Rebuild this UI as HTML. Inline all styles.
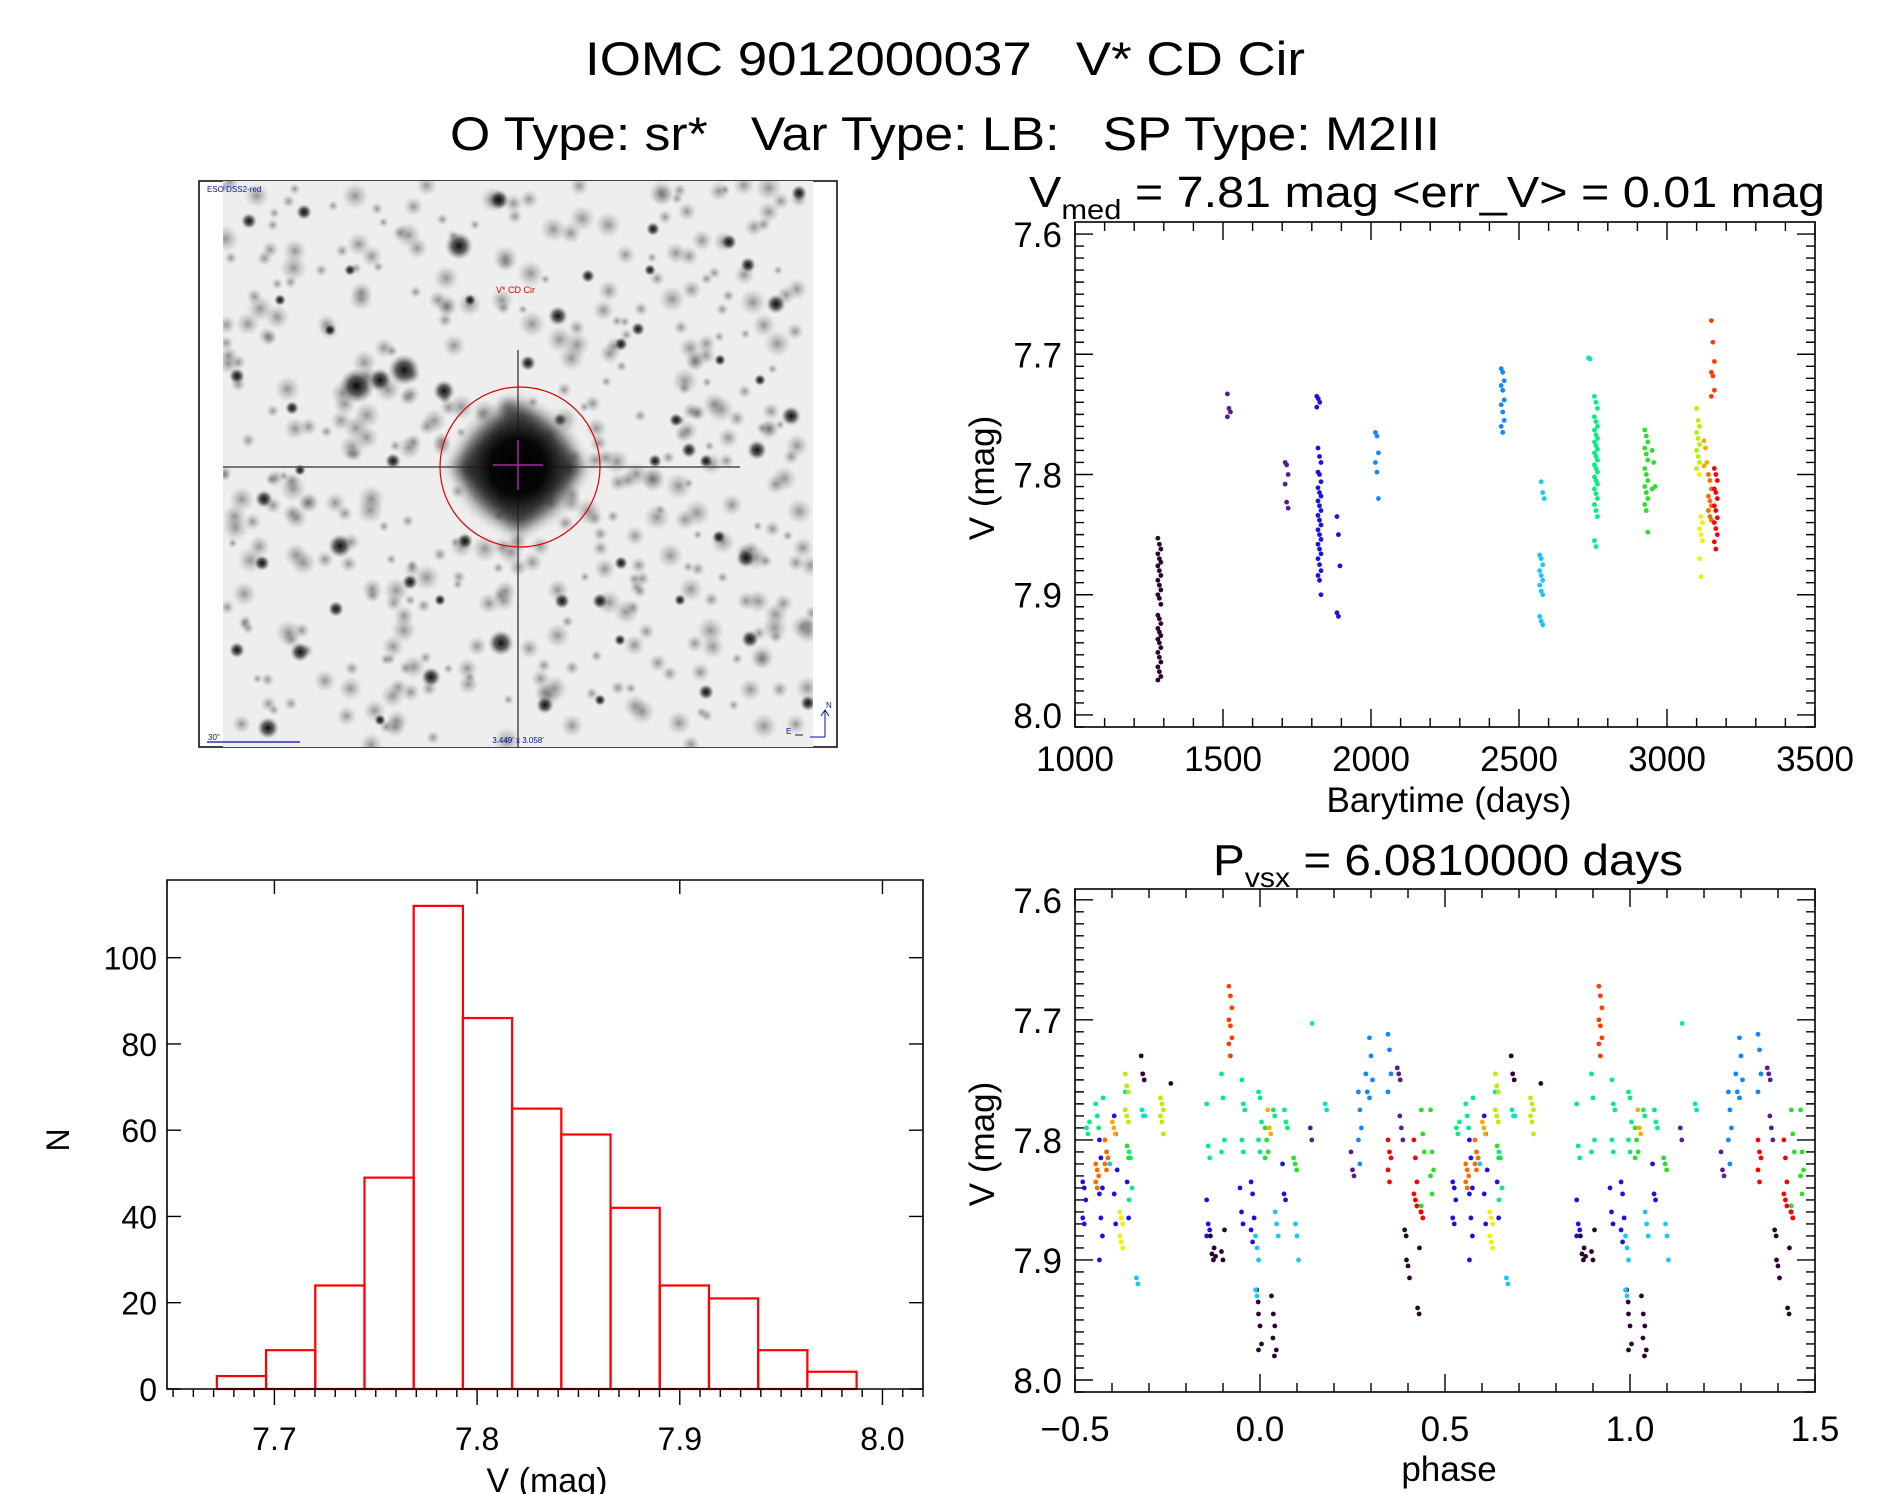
<!DOCTYPE html>
<html><head><meta charset="utf-8">
<style>
html,body{margin:0;padding:0;background:#fff;}
svg{display:block;font-family:"Liberation Sans",sans-serif;}
.thin{stroke:#fff;stroke-width:1.1px;paint-order:stroke fill;}
</style></head>
<body>
<svg id="fig" width="1889" height="1494" viewBox="0 0 1889 1494" xmlns="http://www.w3.org/2000/svg">
<text x="945" y="75" font-size="47" text-anchor="middle" textLength="720" lengthAdjust="spacingAndGlyphs" xml:space="preserve">IOMC 9012000037   V* CD Cir</text>
<text x="945" y="150" font-size="47" text-anchor="middle" textLength="990" lengthAdjust="spacingAndGlyphs" xml:space="preserve">O Type: sr*   Var Type: LB:   SP Type: M2III</text>
<text x="1029" y="207" font-size="44" textLength="796" lengthAdjust="spacingAndGlyphs" xml:space="preserve">V<tspan font-size="28" dy="12">med</tspan><tspan dy="-12"> = 7.81 mag &lt;err_V&gt; = 0.01 mag</tspan></text>
<text x="1213" y="875" font-size="44" textLength="470" lengthAdjust="spacingAndGlyphs" xml:space="preserve">P<tspan font-size="28" dy="12">vsx</tspan><tspan dy="-12"> = 6.0810000 days</tspan></text>

<g id="sky">
  <defs>
    <radialGradient id="blob"><stop offset="0" stop-color="#000" stop-opacity="0.95"/><stop offset="0.5" stop-color="#222" stop-opacity="0.7"/><stop offset="1" stop-color="#888" stop-opacity="0"/></radialGradient>
    <radialGradient id="faint"><stop offset="0" stop-color="#555" stop-opacity="0.6"/><stop offset="1" stop-color="#999" stop-opacity="0"/></radialGradient>
    <radialGradient id="bright"><stop offset="0" stop-color="#000"/><stop offset="0.4" stop-color="#111"/><stop offset="0.75" stop-color="#666" stop-opacity="0.6"/><stop offset="1" stop-color="#ccc" stop-opacity="0"/></radialGradient>
    <filter id="blur6"><feGaussianBlur stdDeviation="7"/></filter>
    <clipPath id="skyclip"><rect x="223" y="181" width="590" height="566"/></clipPath>
  </defs>
  <rect x="199" y="181" width="638" height="566" fill="#fff" stroke="#000" stroke-width="1.5"/>
  <g clip-path="url(#skyclip)">
  <rect x="223" y="181" width="590" height="566" fill="#eeeeee"/>
  <g id="faintstars"></g>
  <g id="stars"></g>
  <line x1="223" y1="467" x2="740" y2="467" stroke="#444" stroke-width="2" opacity="0.7"/>
  <line x1="518" y1="350" x2="518" y2="747" stroke="#444" stroke-width="2" opacity="0.7"/>
  <ellipse cx="518" cy="467" rx="70" ry="70" fill="url(#bright)"/>
  <polygon points="518,400 585,467 518,534 451,467" fill="#000" opacity="0.6" filter="url(#blur6)"/>
  </g>
  <circle cx="520" cy="467" r="80" fill="none" stroke="#d00" stroke-width="1.2"/>
  <line x1="518" y1="440" x2="518" y2="490" stroke="#b020b0" stroke-width="1.5"/>
  <line x1="493" y1="465" x2="543" y2="465" stroke="#b020b0" stroke-width="1.5"/>
  <text x="496" y="293" font-size="9" fill="#d00">V* CD Cir</text>
  <text x="207" y="192" font-size="8" fill="#0010a0">ESO DSS2-red</text>
  <text x="208" y="740" font-size="8" fill="#0010a0">30"</text>
  <line x1="207" y1="742" x2="300" y2="742" stroke="#0010a0" stroke-width="1.2"/>
  <text x="518" y="743" font-size="8" fill="#0010a0" text-anchor="middle">3.449' x 3.058'</text>
  <path d="M825,737 L825,710 M821,716 L825,710 L829,716 M825,737 L810,737 M795,735 L803,735" stroke="#0010a0" fill="none" stroke-width="1"/>
  <text x="826" y="708" font-size="8" fill="#0010a0">N</text>
  <text x="786" y="734" font-size="8" fill="#0010a0">E</text>
</g>

<g id="lc"></g>
<g id="ph"></g>
<g id="hist"></g>
</svg>
<script>
// ---------- Light curve data ----------
const lcTimes = [1285, 1520, 1715, 1822, 1826, 1890, 2020, 2445, 2575, 2580, 2740, 2760, 2930, 2955, 3105, 3115, 3130, 3145, 3155, 3165];
const lcColors = [0, 1, 1, 2, 2, 2, 3, 3, 4, 4, 5, 6, 7, 7, 8, 9, 10, 11, 12, 13];
const lcMags = [
 [7.853,7.858,7.862,7.866,7.870,7.873,7.876,7.880,7.884,7.888,7.892,7.896,7.900,7.903,7.908,7.917,7.920,7.924,7.928,7.931,7.934,7.937,7.940,7.944,7.948,7.952,7.956,7.960,7.964,7.968,7.971],
 [7.733,7.745,7.748,7.752],
 [7.790,7.792,7.800,7.808,7.823,7.828],
 [7.735,7.737,7.740,7.744],
 [7.778,7.785,7.790,7.798,7.800,7.806,7.811,7.815,7.818,7.822,7.826,7.830,7.834,7.838,7.842,7.846,7.850,7.854,7.858,7.862,7.866,7.870,7.875,7.880,7.884,7.888,7.900],
 [7.835,7.850,7.876,7.915,7.918],
 [7.765,7.768,7.782,7.790,7.798,7.820],
 [7.712,7.715,7.722,7.726,7.730,7.738,7.742,7.748,7.755,7.760,7.765],
 [7.867,7.870,7.875,7.880,7.884,7.888,7.892,7.897,7.900,7.918,7.922,7.925],
 [7.806,7.815,7.820],
 [7.703,7.704],
 [7.735,7.740,7.745,7.752,7.756,7.760,7.763,7.767,7.770,7.773,7.776,7.779,7.782,7.785,7.788,7.792,7.795,7.798,7.802,7.805,7.808,7.812,7.816,7.820,7.825,7.830,7.835,7.855,7.860],
 [7.763,7.768,7.773,7.778,7.783,7.788,7.795,7.800,7.805,7.810,7.815,7.820,7.825,7.830,7.848],
 [7.780,7.790,7.810,7.812],
 [7.745,7.755,7.760,7.765,7.770,7.775,7.780,7.785,7.790,7.795],
 [7.800,7.835,7.840,7.845,7.850,7.855,7.870,7.885],
 [7.772,7.778,7.790,7.793],
 [7.800,7.805,7.812,7.818,7.822,7.826,7.830,7.835,7.838],
 [7.672,7.690,7.706,7.715,7.718,7.730,7.735],
 [7.795,7.800,7.805,7.812,7.815,7.820,7.826,7.830,7.836,7.840,7.845,7.850,7.856,7.862]
];
const lcXTicks = [1000,1500,2000,2500,3000,3500];
const magTicks = [7.6,7.7,7.8,7.9,8.0];

// ---------- Phase data (phase in [-0.5,0.5), drawn twice) ----------
const phPhase = [-0.13,-0.12,-0.10,-0.005,0.0,0.035,0.04,0.395,0.40,0.43,0.435,-0.317,-0.237,
 0.14,0.25,0.375,0.382,
 -0.475,-0.43,-0.39,-0.355,-0.14,-0.05,-0.02,0.065,
 0.27,0.29,0.30,0.35,
 -0.41,-0.33,-0.008,0.045,0.10,
 0.145,0.18,-0.315,
 -0.465,-0.44,-0.42,-0.36,-0.35,-0.14,-0.10,-0.045,0.0,0.04,0.07,
 -0.355,0.018,0.095,0.44,0.465,
 -0.36,-0.265,
 -0.375,
 -0.395,0.025,
 -0.44,-0.415,
 -0.08,
 0.35,0.42,0.44];
const phColors = [0,0,0,0,0,0,0,0,0,0,0,0,0,
 1,1,1,1,
 2,2,2,2,2,2,2,2,
 3,3,3,3,
 4,4,4,4,4,
 5,5,5,
 6,6,6,6,6,6,6,6,6,6,6,
 7,7,7,7,7,
 8,8,
 9,
 10,10,
 11,11,
 12,
 13,13,13];
const phMags = [
 [7.88,7.895,7.90],[7.89,7.897],[7.893,7.90,7.875],[7.925,7.935],[7.945,7.955,7.97,7.975],[7.93,7.965,7.98],[7.945,7.955,7.975],
 [7.875,7.88],[7.90,7.905,7.915],[7.94,7.945],[7.89,7.86],[7.73,7.745,7.75],[7.753],
 [7.79,7.80],[7.81,7.825,7.83],[7.74,7.745,7.75],[7.78,7.79,7.80],
 [7.835,7.84,7.85,7.865,7.87],[7.80,7.815,7.84,7.845,7.865,7.88,7.90],[7.78,7.795,7.825,7.845,7.87],[7.835,7.865],
 [7.85,7.87,7.875,7.88],[7.84,7.86,7.87],[7.835,7.845,7.865,7.875,7.885],[7.82,7.845,7.85],
 [7.76,7.775,7.79,7.80,7.82],[7.745,7.76],[7.715,7.73,7.75,7.765],[7.712,7.725,7.745,7.76],
 [7.81,7.815,7.82],[7.915,7.92],[7.88,7.89,7.90,7.925,7.93],[7.86,7.87,7.88],[7.87,7.88,7.90],
 [7.703],[7.77,7.775],[7.775,7.78,7.78],
 [7.79,7.795,7.785],[7.77,7.78,7.79],[7.765],[7.76],[7.81,7.815,7.84,7.85],[7.77,7.805,7.815],[7.745,7.765,7.80,7.81],[7.75,7.77,7.775,7.80,7.81],[7.76,7.765,7.785,7.80,7.81],[7.775,7.78],[7.775,7.785,7.79],
 [7.805,7.815],[7.79,7.80,7.81,7.815],[7.815,7.82,7.825],[7.775,7.795,7.81,7.855,7.865],[7.775,7.81,7.825,7.83,7.845],
 [7.745,7.755,7.76,7.775,7.78,7.785],[7.765,7.77,7.775,7.78,7.785,7.795],
 [7.86,7.865,7.87,7.88,7.885,7.89],
 [7.785,7.79,7.795],[7.775,7.79,7.795],
 [7.82,7.825,7.83,7.835,7.84],[7.80,7.81,7.815,7.82,7.825],
 [7.672,7.68,7.69,7.70,7.705,7.715,7.72,7.73],
 [7.80,7.81,7.815,7.825,7.835],[7.80,7.815,7.835,7.845,7.85,7.855],[7.86,7.865]
];
const phXTicks = [-0.5,0.0,0.5,1.0,1.5];

// ---------- Histogram data ----------
const histStart = 7.6716;
const histWidth = 0.02428;
const histCounts = [3,9,24,49,112,86,65,59,42,24,21,9,4];
const histXTicks = [7.7,7.8,7.9,8.0];
const histYTicks = [0,20,40,60,80,100];

const palette = ['#2d0033','#5a1a90','#1a10e8','#1288ff','#12c8ff','#00e8c0','#00f080','#28e028','#b8f000','#f0f000','#ffa800','#ff6a00','#ff3c00','#ff0000'];
const NS = 'http://www.w3.org/2000/svg';
function el(tag, attrs, parent){ const e=document.createElementNS(NS,tag); for(const k in attrs) e.setAttribute(k,attrs[k]); parent.appendChild(e); return e; }

function drawAxes(g, L, R, T, B, xs, ys, xMaj, xMin, yMaj, yMin, xr, yr, namePrefix){
  const fr = el('rect',{x:L,y:T,width:R-L,height:B-T,fill:'none',stroke:'#000','stroke-width':1.6},g);
  
  
  let d='';
  for(let v=xr[0]; v<=xr[1]+1e-9; v+=xMin){ const x=xs(v); if(x<L-0.5||x>R+0.5) continue; const maj=Math.abs(v/xMaj-Math.round(v/xMaj))<1e-6; const len=maj?18:9; d+=`M${x},${B}v${-len}M${x},${T}v${len}`; }
  for(let v=yr[0]; v<=yr[1]+1e-9; v+=yMin){ const y=ys(v); if(y<T-0.5||y>B+0.5) continue; const maj=Math.abs(v/yMaj-Math.round(v/yMaj))<1e-6; const len=maj?18:9; d+=`M${L},${y}h${len}M${R},${y}h${-len}`; }
  el('path',{d:d,stroke:'#000','stroke-width':1.4,fill:'none'},g);
}
function txt(g, x, y, s, size, anchor, name){
  const t=el('text',{x:x,y:y,'font-size':size,'text-anchor':anchor||'middle'},g);
  t.textContent=s;
  
  
  return t;
}

// ---------- Light curve ----------
(function(){
  const g=document.getElementById('lc');
  const L=1075,R=1815,T=222,B=727;
  const xs=v=>L+(v-1000)/2500*(R-L);
  const ys=v=>T+(v-7.59)/0.42*(B-T);
  drawAxes(g,L,R,T,B,xs,ys,500,100,0.1,0.01,[1000,3500],[7.6,8.01],'lightcurve');
  lcXTicks.forEach(v=>txt(g,xs(v),771,String(v),35,'middle','x-tick-label'));
  magTicks.forEach(v=>txt(g,1062,ys(v)+13,v.toFixed(1),35,'end','y-tick-label'));
  txt(g,1449,812,'Barytime (days)',35,'middle','x-axis-title');
  const yt=txt(g,0,0,'V (mag)',35,'middle','y-axis-title');
  yt.setAttribute('transform','translate(994,478) rotate(-90)');
  lcTimes.forEach((t,i)=>{
    lcMags[i].forEach((m,j)=>{
      const c=el('circle',{cx:xs(t)+((j%3)-1)*1.5,cy:ys(m),r:2.4,fill:palette[lcColors[i]]},g);
      
      
    });
  });
})();

// ---------- Phase plot ----------
(function(){
  const g=document.getElementById('ph');
  const L=1075,R=1815,T=889,B=1392;
  const xs=v=>L+(v+0.5)/2*(R-L);
  const ys=v=>T+(v-7.591)/0.419*(B-T);
  drawAxes(g,L,R,T,B,xs,ys,0.5,0.1,0.1,0.01,[-0.5,1.5],[7.6,8.01],'phase');
  phXTicks.forEach(v=>txt(g,xs(v),1441,(v<0?'\u2212':'')+Math.abs(v).toFixed(1),35,'middle','x-tick-label'));
  magTicks.forEach(v=>txt(g,1062,ys(v)+13,v.toFixed(1),35,'end','y-tick-label'));
  txt(g,1449,1481,'phase',35,'middle','x-axis-title');
  const yt=txt(g,0,0,'V (mag)',35,'middle','y-axis-title');
  yt.setAttribute('transform','translate(994,1144) rotate(-90)');
  phPhase.forEach((p,i)=>{
    phMags[i].forEach((m,j)=>{
      [p,p+1].forEach(pp=>{
        const c=el('circle',{cx:xs(pp)+((j%3)-1)*1.5,cy:ys(m),r:2.4,fill:palette[phColors[i]]},g);
        
        
      });
    });
  });
})();

// ---------- Histogram ----------
(function(){
  const g=document.getElementById('hist');
  const L=167,R=923,T=880,B=1389;
  const xs=v=>L+(v-7.647)/0.373*(R-L);
  const ys=n=>B-n/118*(B-T);
  histCounts.forEach((n,i)=>{
    const x0=xs(histStart+i*histWidth), x1=xs(histStart+(i+1)*histWidth);
    const r=el('rect',{x:x0,y:ys(n),width:x1-x0,height:B-ys(n),fill:'none',stroke:'#f00','stroke-width':2.2},g);
    
    
  });
  el('path',{d:`M${L},${T}H${R}V${B}H${L}Z`,fill:'none',stroke:'#000','stroke-width':1.6},g);
  let d='';
  for(let k=0;k<=37;k++){ const v=7.65+k*0.01; const x=xs(v); if(x<L||x>R) continue; const maj=Math.abs(v*10-Math.round(v*10))<1e-6; d+=`M${x},${B}v${maj?16:8}`; if(maj) d+=`M${x},${T}v14`; }
  histYTicks.forEach(n=>{ const y=ys(n); d+=`M${L},${y}h14M${R},${y}h-14`; });
  el('path',{d:d,stroke:'#000','stroke-width':1.4,fill:'none'},g);
  histXTicks.forEach(v=>txt(g,xs(v),1450,v.toFixed(1),32,'middle','x-tick-label'));
  histYTicks.forEach(n=>txt(g,157,ys(n)+12,String(n),32,'end','y-tick-label'));
  txt(g,547,1492,'V (mag)',34,'middle','x-axis-title');
  const yt=txt(g,0,0,'N',32,'middle','y-axis-title');
  yt.setAttribute('transform','translate(69,1140) rotate(-90)');
})();

// ---------- Sky image stars (decorative) ----------
(function(){
  const g=document.getElementById('stars');
  const stars=[[459,246,14],[357,386,18],[404,370,16],[444,391,11],[558,316,10],[501,643,13],[340,546,12],[791,416,10],[757,450,10],[746,558,10],[431,677,10],[545,705,9],[268,728,11],[300,652,10],[249,221,8],[304,212,8],[776,304,10],[729,242,8],[653,229,7],[393,461,8],[750,639,9],[799,193,8],[499,200,10],[706,692,8],[808,703,8],[528,363,8],[264,499,9],[237,650,8],[336,609,8],[562,601,8],[600,601,8],[410,582,8],[465,541,8],[689,450,8],[655,461,7],[706,461,7],[638,329,7],[621,344,7],[588,276,7],[748,265,8],[676,420,7],[292,408,7],[237,376,8],[262,563,8],[621,563,7],[719,537,7],[280,300,6],[350,270,6],[620,640,6],[680,600,6],[720,360,6],[300,470,6],[600,700,6],[380,720,6],[650,270,6],[470,300,6],[560,420,7],[760,380,6],[330,330,6],[440,600,6],[380,380,12]];
  stars.forEach(s=>{ el('circle',{cx:s[0],cy:s[1],r:s[2],fill:'url(#blob)'},g); });
  // faint mottled texture (decorative, deterministic)
  const fg=document.getElementById('faintstars');
  let seed=12345;
  function rnd(){ seed=(seed*1103515245+12345)%2147483648; return seed/2147483648; }
  for(let i=0;i<420;i++){
    const x=223+rnd()*590, y=181+rnd()*566, r=5+rnd()*9;
    el('circle',{cx:x,cy:y,r:r,fill:'url(#faint)'},fg);
  }
})();
</script>
</body></html>
